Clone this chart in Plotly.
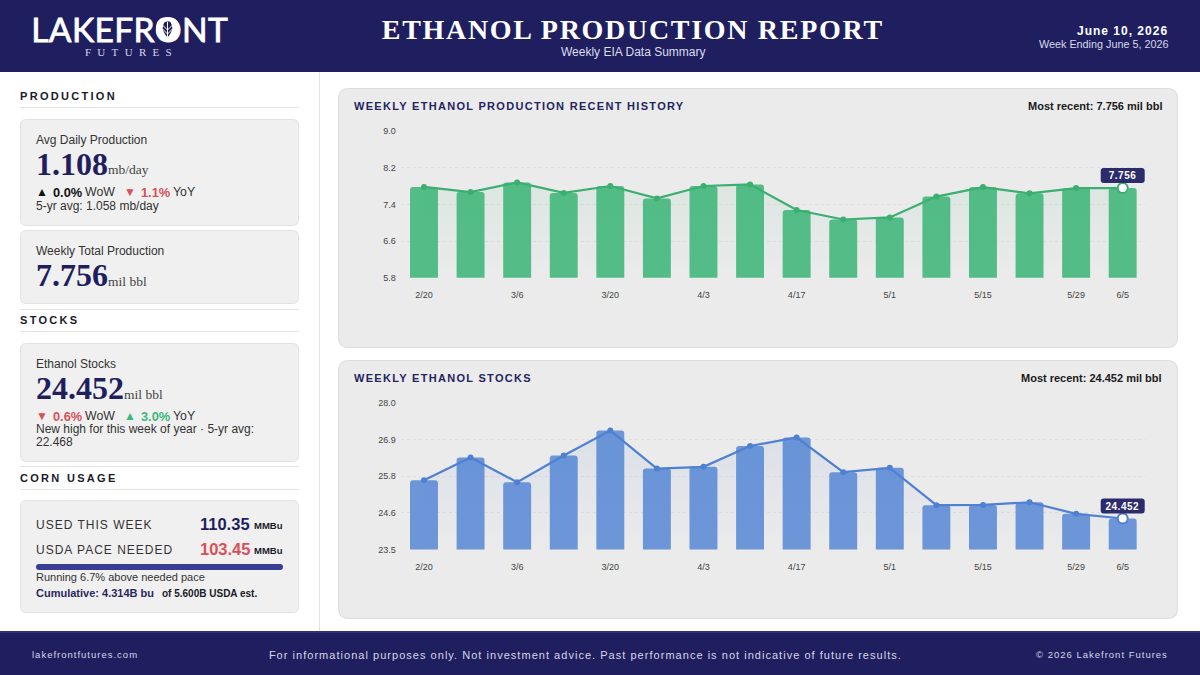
import json
import plotly.graph_objects as go

W, H = 1200, 675

WEEKS = ["2/20", "2/27", "3/6", "3/13", "3/20", "3/27", "4/3", "4/10",
         "4/17", "4/24", "5/1", "5/8", "5/15", "5/22", "5/29", "6/5"]
TICK_WEEKS = ["2/20", "3/6", "3/20", "4/3", "4/17", "5/1", "5/15", "5/29", "6/5"]
PRODUCTION = [7.78, 7.667, 7.878, 7.65, 7.80, 7.53, 7.80, 7.835,
              7.275, 7.07, 7.115, 7.57, 7.776, 7.64, 7.754, 7.756]
STOCKS = [25.63, 26.325, 25.567, 26.386, 27.154, 25.987, 26.04, 26.68,
          26.94, 25.875, 26.008, 24.86, 24.87, 24.95, 24.595, 24.452]
PROD_TICKS = [5.8, 6.6, 7.4, 8.2, 9.0]
PROD_TICK_TEXT = ["5.8", "6.6", "7.4", "8.2", "9.0"]
STOCK_TICKS = [23.5, 24.625, 25.75, 26.875, 28.0]
STOCK_TICK_TEXT = ["23.5", "24.6", "25.8", "26.9", "28.0"]

NAVY = "#1f1f5f"
SANS = "Liberation Sans"
SERIF = "Liberation Serif"
GREEN_BAR, GREEN_LINE = "#54bd87", "#3cae72"
BLUE_BAR, BLUE_LINE = "#6c96d8", "#4f80d2"

shapes, annotations, spacing, strokes = [], [], {}, {}


def px(x):
    return x / W


def py(y):
    return 1 - y / H


def pixel_path(d):
    out = []
    for p in d.split(" "):
        if p == "Z":
            out.append("Z")
            continue
        cmd, pairs = p[0], p[1:].split(";")
        coords = " ".join(f"{px(float(q.split(',')[0]))},{py(float(q.split(',')[1]))}" for q in pairs)
        out.append(cmd + coords)
    return " ".join(out)


def rect(x0, y0, x1, y1, fill, line=None, r=0, layer="below", width=1):
    if r:
        d = (f"M{x0 + r},{y0} L{x1 - r},{y0} Q{x1},{y0};{x1},{y0 + r} L{x1},{y1 - r} "
             f"Q{x1},{y1};{x1 - r},{y1} L{x0 + r},{y1} Q{x0},{y1};{x0},{y1 - r} "
             f"L{x0},{y0 + r} Q{x0},{y0};{x0 + r},{y0} Z")
        shapes.append(dict(type="path", xref="paper", yref="paper", path=pixel_path(d), fillcolor=fill,
                           line=dict(color=line or fill, width=width if line else 0), layer=layer))
    else:
        shapes.append(dict(type="rect", xref="paper", yref="paper", x0=px(x0), x1=px(x1),
                           y0=py(y0), y1=py(y1), fillcolor=fill, line=dict(width=0), layer=layer))


def label(x, y, text, size, color, family=SANS, bold=False, anchor="left", ls=0):
    annotations.append(dict(xref="paper", yref="paper", x=px(x), y=py(y), text=text, showarrow=False,
                            xanchor=anchor, yanchor="middle", align=anchor,
                            font=dict(size=size, color=color, family=family,
                                      weight=700 if bold else 400),
                            borderpad=0, borderwidth=0))
    if ls:
        spacing[len(annotations) - 1] = ls


# header and footer bands
rect(0, 0, W, 72, NAVY)
rect(0, 631, W, 675, NAVY)
rect(0, 631, W, 633, "#2f3080")
rect(319, 72, 320, 631, "#e2e2e2")

# logo
label(130, 29, "LAKEFRONT", 33.5, "#ffffff", family="Lato", anchor="center", ls=0.4)
strokes[len(annotations) - 1] = 0.8
label(131.5, 52, "FUTURES", 11, "#d5d5e6", family=SERIF, anchor="center", ls=6.3)
rect(156, 17, 179, 40, "#ffffff", r=11.5, layer="above")
shapes.append(dict(type="path", xref="paper", yref="paper", layer="above", fillcolor=NAVY, line=dict(width=0),
                   path=pixel_path("M167.5,19 Q177,27;167.5,37.5 Q158,27;167.5,19 Z")))
for d in ["M167.5,22 L167.5,37", "M162.5,25 L167.5,30 L172.5,25", "M162.5,29 L167.5,34 L172.5,29"]:
    shapes.append(dict(type="path", xref="paper", yref="paper", path=pixel_path(d),
                       line=dict(color="#ffffff", width=1), layer="above"))

# header text
label(633, 30, "ETHANOL PRODUCTION REPORT", 28, "#ffffff", family=SERIF, bold=True, anchor="center", ls=1.7)
label(633, 52, "Weekly EIA Data Summary", 12, "#dcdcee", anchor="center")
label(1168, 31, "June 10, 2026", 12, "#ffffff", bold=True, anchor="right", ls=1)
label(1168, 44, "Week Ending June 5, 2026", 10.8, "#d8d8ea", anchor="right")

# footer text
label(32, 654.5, "lakefrontfutures.com", 9.5, "#d5d5e6", ls=1)
label(585.5, 654.5, "For informational purposes only. Not investment advice. Past performance is not indicative of future results.",
      11, "#d5d5e6", anchor="center", ls=1.03)
label(1168, 654.5, "© 2026 Lakefront Futures", 9.5, "#d5d5e6", anchor="right", ls=1)

# sidebar: section headings
CARD, CARD_LINE = "#f0f0f0", "#e2e2e2"
for hy, name, ly in [(96, "PRODUCTION", 107), (320, "STOCKS", 331), (478, "CORN USAGE", 489)]:
    label(20, hy, name, 11, "#1a1a2a", bold=True, ls=2.3)
    rect(20, ly, 299, ly + 1, "#e4e4e4")
rect(20, 309, 299, 310, "#e4e4e4")
rect(20, 466, 299, 467, "#e4e4e4")

# sidebar: cards
for y0, y1 in [(119.5, 225.5), (230.5, 303.5), (343.5, 461.5), (500.5, 612.5)]:
    rect(20.5, y0, 298.5, y1, CARD, CARD_LINE, r=6)

GREY, RED, UP = "#333333", "#d9505a", "#3cb878"


def big(y, lab, value, value_w, unit):
    label(36, y, lab, 12, GREY)
    label(36, y + 24, value, 32, NAVY, family=SERIF, bold=True)
    label(36 + value_w, y + 30, unit, 13.5, "#444444", family=SERIF)


big(140, "Avg Daily Production", "1.108", 72, "mb/day")
label(36, 192, "▲", 12, "#111111")
label(53, 192, "0.0%", 12.8, "#111111", bold=True)
label(85, 192, "WoW", 12.3, GREY)
label(124, 192, "▼", 12, RED)
label(141, 192, "1.1%", 12.8, RED, bold=True)
label(173, 192, "YoY", 12.3, GREY)
label(36, 206, "5-yr avg: 1.058 mb/day", 12, GREY)

big(251, "Weekly Total Production", "7.756", 72, "mil bbl")

big(364, "Ethanol Stocks", "24.452", 88, "mil bbl")
label(36, 416, "▼", 12, RED)
label(53, 416, "0.6%", 12.8, RED, bold=True)
label(85, 416, "WoW", 12.3, GREY)
label(124, 416, "▲", 12, UP)
label(141, 416, "3.0%", 12.8, UP, bold=True)
label(173, 416, "YoY", 12.3, GREY)
label(36, 429, "New high for this week of year · 5-yr avg:", 12, GREY)
label(36, 442, "22.468", 12, GREY)

label(36, 525, "USED THIS WEEK", 12, GREY, ls=1)
label(250, 524, "110.35", 16.5, NAVY, bold=True, anchor="right")
label(283, 525.5, "MMBu", 9.5, "#1a1a2a", bold=True, anchor="right")
label(36, 550, "USDA PACE NEEDED", 12, GREY, ls=1)
label(249.5, 548.5, "103.45", 16.5, RED, bold=True, anchor="right")
label(283, 550.5, "MMBu", 9.5, "#1a1a2a", bold=True, anchor="right")
rect(36, 564, 283, 570, "#3a3d96", r=3)
label(36, 576.5, "Running 6.7% above needed pace", 11, GREY)
label(36, 593, "Cumulative: 4.314B bu", 11, "#28285f", bold=True)
label(162, 593.5, "of 5.600B USDA est.", 10, "#1a1a2a", bold=True)

# chart cards
for y0, y1, title, recent in [(88.5, 347.5, "WEEKLY ETHANOL PRODUCTION RECENT HISTORY", "Most recent: 7.756 mil bbl"),
                              (360.5, 618.5, "WEEKLY ETHANOL STOCKS", "Most recent: 24.452 mil bbl")]:
    rect(338.5, y0, 1177.5, y1, "#ebebeb", "#dcdcdc", r=10)
    label(354, y0 + 17.5, title, 11, "#24245f", bold=True, ls=1.3)
    label(1162, y0 + 17.5, recent, 11, "#1a1a1a", bold=True, anchor="right")

fig = go.Figure()


def panel(n, values, ticks, tick_text, low, high, bar, line, rgb, top, bottom):
    xa, ya = ("x", "y") if n == 1 else (f"x{n}", f"y{n}")
    last = WEEKS[-1]
    fig.add_trace(go.Bar(x=WEEKS, y=values, xaxis=xa, yaxis=ya, marker=dict(color=bar, cornerradius=3, line=dict(width=0)),
                         showlegend=False, hoverinfo="skip"))
    fig.add_trace(go.Scatter(x=WEEKS, y=values, xaxis=xa, yaxis=ya, mode="lines+markers",
                             line=dict(color=line, width=2.2), marker=dict(color=line, size=6),
                             fill="tozeroy",
                             fillgradient=dict(type="vertical", start=low, stop=high * 0.9 + low * 0.1,
                                               colorscale=[[0, f"rgba({rgb},0.0)"], [1, f"rgba({rgb},0.12)"]]),
                             showlegend=False, hoverinfo="skip"))
    fig.add_trace(go.Scatter(x=[last], y=[values[-1]], xaxis=xa, yaxis=ya, mode="markers",
                             marker=dict(color="#ffffff", size=10, line=dict(color=line, width=2)),
                             showlegend=False, hoverinfo="skip"))
    axis = dict(domain=[px(400.7), px(1146)], type="category", categoryorder="array", categoryarray=WEEKS,
                range=[-0.5, 15.5], tickmode="array", tickvals=TICK_WEEKS, ticktext=TICK_WEEKS,
                showgrid=False, zeroline=False, showline=False, ticks="", ticklen=0, ticklabelstandoff=10,
                tickfont=dict(size=9, color="#444444", family=SANS), anchor=ya, automargin=False)
    yaxis = dict(domain=[py(bottom), py(top)], range=[low, high], tickmode="array", tickvals=ticks, ticktext=tick_text,
                 showgrid=True, gridcolor="#dedede", griddash="3px,3px", gridwidth=1, zeroline=False, showline=False,
                 ticks="", ticklabelstandoff=4, tickfont=dict(size=9, color="#444444", family=SANS), anchor=xa,
                 automargin=False)
    fig.update_layout({("xaxis" if n == 1 else f"xaxis{n}"): axis, ("yaxis" if n == 1 else f"yaxis{n}"): yaxis})
    # value pill anchored to the latest point
    shapes.append(dict(type="path", xref=xa, yref=ya, xsizemode="pixel", ysizemode="pixel",
                       xanchor=last, yanchor=values[-1],
                       path="M-19,20 L19,20 Q22,20 22,17 L22,8 Q22,5 19,5 L-19,5 Q-22,5 -22,8 L-22,17 Q-22,20 -19,20 Z",
                       fillcolor="#2c2c6c", line=dict(width=0), layer="above"))
    annotations.append(dict(xref=xa, yref=ya, x=last, y=values[-1], yshift=12.5, text=f"{values[-1]:.3f}",
                            showarrow=False, xanchor="center", yanchor="middle", align="center",
                            font=dict(size=10, color="#ffffff", family=SANS, weight=700)))
    spacing[len(annotations) - 1] = 0.5


panel(1, PRODUCTION, PROD_TICKS, PROD_TICK_TEXT, 5.8, 9.0, GREEN_BAR, GREEN_LINE, "60,174,114", 131, 277.7)
panel(2, STOCKS, STOCK_TICKS, STOCK_TICK_TEXT, 23.5, 28.0, BLUE_BAR, BLUE_LINE, "79,128,210", 403, 549.5)

fig.update_layout(width=W, height=H, margin=dict(l=0, r=0, t=0, b=0), paper_bgcolor="#ffffff", plot_bgcolor="rgba(0,0,0,0)",
                  bargap=0.4, showlegend=False, shapes=shapes, annotations=annotations, hovermode=False)

post = """
document.body.style.margin = '0';
var LS = %s, ST = %s;
document.querySelectorAll('.annotation').forEach(function (a) {
  var i = a.getAttribute('data-index');
  var t = a.querySelector('.annotation-text');
  if (!t) { return; }
  if (LS[i]) { t.style.letterSpacing = LS[i] + 'px'; }
  if (ST[i]) { t.style.stroke = '#ffffff'; t.style.strokeWidth = ST[i] + 'px'; }
});
""" % (json.dumps(spacing), json.dumps(strokes))

fig.write_html("out.html", post_script=post, config={"displayModeBar": False})
